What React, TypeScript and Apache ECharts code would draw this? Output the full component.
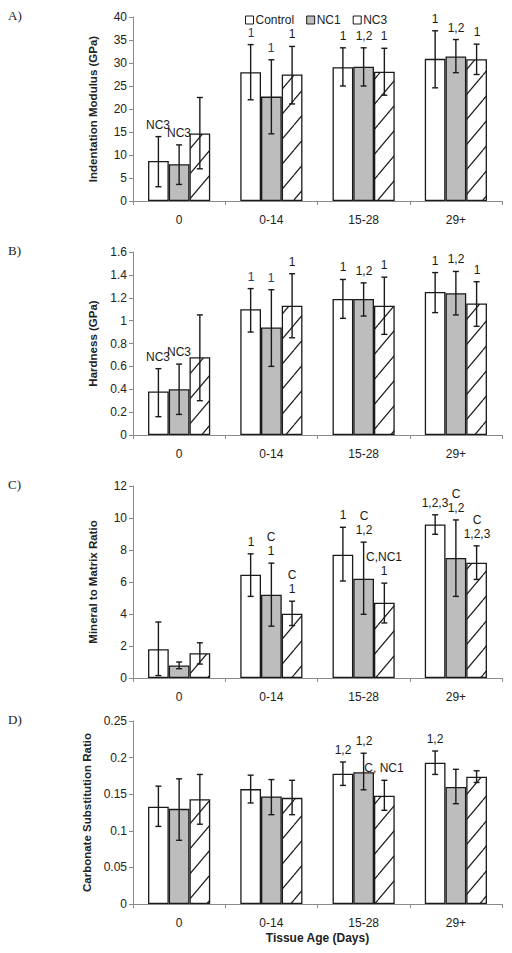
import React, { useEffect, useRef } from 'react';
import * as echarts from 'echarts';

const categories = ['0', '0-14', '15-28', '29+'];
const seriesNames = ['Control', 'NC1', 'NC3'];

// A) Indentation Modulus (GPa)
const modControl = [8.7, 28.0, 29.1, 30.9];
const modControlHi = [14.0, 34.0, 33.3, 37.0];
const modControlLo = [3.1, 22.0, 25.0, 24.6];
const modNC1 = [8.0, 22.7, 29.2, 31.4];
const modNC1Hi = [12.2, 30.7, 33.3, 35.1];
const modNC1Lo = [3.6, 14.6, 25.0, 27.9];
const modNC3 = [14.7, 27.5, 28.1, 30.8];
const modNC3Hi = [22.5, 33.6, 33.2, 34.1];
const modNC3Lo = [7.0, 21.1, 23.0, 27.5];
const modLabelsControl = ['NC3', '1', '1', '1'];
const modLabelsNC1 = ['NC3', '1', '1,2', '1,2'];
const modLabelsNC3 = ['', '1', '1', '1'];

// B) Hardness (GPa)
const hardControl = [0.38, 1.1, 1.19, 1.25];
const hardControlHi = [0.58, 1.28, 1.36, 1.42];
const hardControlLo = [0.16, 0.9, 1.02, 1.07];
const hardNC1 = [0.4, 0.94, 1.19, 1.24];
const hardNC1Hi = [0.62, 1.27, 1.33, 1.43];
const hardNC1Lo = [0.18, 0.6, 1.04, 1.05];
const hardNC3 = [0.68, 1.13, 1.13, 1.15];
const hardNC3Hi = [1.05, 1.41, 1.38, 1.34];
const hardNC3Lo = [0.3, 0.85, 0.88, 0.95];
const hardLabelsControl = ['NC3', '1', '1', '1'];
const hardLabelsNC1 = ['NC3', '1', '1,2', '1,2'];
const hardLabelsNC3 = ['', '1', '1', '1'];

// C) Mineral to Matrix Ratio
const mmControl = [1.8, 6.45, 7.7, 9.6];
const mmControlHi = [3.5, 7.76, 9.42, 10.2];
const mmControlLo = [0.15, 5.1, 6.06, 8.98];
const mmNC1 = [0.78, 5.2, 6.2, 7.5];
const mmNC1Hi = [1.0, 7.18, 8.49, 9.88];
const mmNC1Lo = [0.58, 3.24, 3.98, 5.1];
const mmNC3 = [1.55, 4.02, 4.7, 7.2];
const mmNC3Hi = [2.2, 4.8, 5.93, 8.26];
const mmNC3Lo = [0.87, 3.28, 3.44, 6.16];
const mmLabelsControl = ['', '1', '1', '1,2,3'];
const mmLabelsNC1 = ['', 'C\n1', 'C\n1,2', 'C\n1,2'];
const mmLabelsNC3 = ['', 'C\n1', 'C,NC1\n1', 'C\n1,2,3'];

// D) Carbonate Substitution Ratio
const csControl = [0.133, 0.157, 0.178, 0.193];
const csControlHi = [0.161, 0.176, 0.194, 0.209];
const csControlLo = [0.106, 0.138, 0.162, 0.177];
const csNC1 = [0.13, 0.147, 0.18, 0.16];
const csNC1Hi = [0.171, 0.17, 0.206, 0.184];
const csNC1Lo = [0.087, 0.122, 0.156, 0.137];
const csNC3 = [0.143, 0.145, 0.148, 0.174];
const csNC3Hi = [0.177, 0.169, 0.169, 0.182];
const csNC3Lo = [0.109, 0.122, 0.128, 0.166];
const csLabelsControl = ['', '', '1,2', '1,2'];
const csLabelsNC1 = ['', '', '1,2', ''];
const csLabelsNC3 = ['', '', 'C, NC1', ''];

const panelLetters = ['A)', 'B)', 'C)', 'D)'];
const yNames = [
  'Indentation Modulus (GPa)',
  'Hardness (GPa)',
  'Mineral to Matrix Ratio',
  'Carbonate Substitution Ratio',
];
const yMax = [40, 1.6, 12, 0.25];
const yInterval = [5, 0.2, 2, 0.05];
const xName = 'Tissue Age (Days)';

const panels = [
  {
    means: [modControl, modNC1, modNC3],
    hi: [modControlHi, modNC1Hi, modNC3Hi],
    lo: [modControlLo, modNC1Lo, modNC3Lo],
    labels: [modLabelsControl, modLabelsNC1, modLabelsNC3],
  },
  {
    means: [hardControl, hardNC1, hardNC3],
    hi: [hardControlHi, hardNC1Hi, hardNC3Hi],
    lo: [hardControlLo, hardNC1Lo, hardNC3Lo],
    labels: [hardLabelsControl, hardLabelsNC1, hardLabelsNC3],
  },
  {
    means: [mmControl, mmNC1, mmNC3],
    hi: [mmControlHi, mmNC1Hi, mmNC3Hi],
    lo: [mmControlLo, mmNC1Lo, mmNC3Lo],
    labels: [mmLabelsControl, mmLabelsNC1, mmLabelsNC3],
  },
  {
    means: [csControl, csNC1, csNC3],
    hi: [csControlHi, csNC1Hi, csNC3Hi],
    lo: [csControlLo, csNC1Lo, csNC3Lo],
    labels: [csLabelsControl, csLabelsNC1, csLabelsNC3],
  },
];

const FONT = '"Liberation Sans", Arial, sans-serif';
const SERIF = '"Liberation Serif", "Times New Roman", serif';
const gridTops = [17, 252, 486, 721];
const gridHeights = [184, 183, 192, 183];
const GRID_LEFT = 133;
const GRID_WIDTH = 369;
const CAT_GAP = 0.326;

function makeHatch() {
  const w = 21;
  const h = 25;
  const c = document.createElement('canvas');
  c.width = w;
  c.height = h;
  const ctx = c.getContext('2d')!;
  ctx.fillStyle = '#ffffff';
  ctx.fillRect(0, 0, w, h);
  ctx.strokeStyle = '#1a1a1a';
  ctx.lineWidth = 1.2;
  for (const dx of [-w, 0, w]) {
    ctx.beginPath();
    ctx.moveTo(dx, h);
    ctx.lineTo(dx + w, 0);
    ctx.stroke();
  }
  return { image: c.toDataURL(), repeat: 'repeat', imageWidth: w, imageHeight: h };
}

export default function App() {
  const ref = useRef<HTMLDivElement>(null);
  useEffect(() => {
    if (!ref.current) return;
    const chart = echarts.init(ref.current, undefined, { renderer: 'svg' });
    const hatch = makeHatch();
    const fills: any[] = ['#ffffff', '#bdbdbd', hatch];

    const grid: any[] = [];
    const xAxis: any[] = [];
    const yAxis: any[] = [];
    const series: any[] = [];
    const graphic: any[] = [];

    panels.forEach((panel, p) => {
      grid.push({ left: GRID_LEFT, top: gridTops[p], width: GRID_WIDTH, height: gridHeights[p] });
      xAxis.push({
        type: 'category',
        gridIndex: p,
        data: categories,
        axisLine: { lineStyle: { color: '#8a8a8a', width: 1 } },
        axisTick: { show: true, length: 4, lineStyle: { color: '#8a8a8a' } },
        axisLabel: { fontSize: 12, color: '#222', margin: 13, fontFamily: FONT },
        name: p === 3 ? xName : '',
        nameLocation: 'middle',
        nameGap: 28,
        nameTextStyle: { fontSize: 12, fontWeight: 'bold', color: '#222', fontFamily: FONT },
      });
      yAxis.push({
        type: 'value',
        gridIndex: p,
        min: 0,
        max: yMax[p],
        interval: yInterval[p],
        axisLine: { show: true, lineStyle: { color: '#8a8a8a', width: 1 } },
        axisTick: { show: true, length: 4, lineStyle: { color: '#8a8a8a' } },
        splitLine: { show: false },
        axisLabel: { fontSize: 12, color: '#222', margin: 6, fontFamily: FONT },
        name: yNames[p],
        nameLocation: 'middle',
        nameGap: 34,
        nameTextStyle: { fontSize: 11.5, fontWeight: 'bold', color: '#222', fontFamily: FONT },
      });
      graphic.push({
        type: 'text',
        left: 8,
        top: gridTops[p] - 8,
        style: { text: panelLetters[p], font: `13px ${SERIF}`, fill: '#222' },
      });

      seriesNames.forEach((name, s) => {
        series.push({
          type: 'bar',
          name,
          xAxisIndex: p,
          yAxisIndex: p,
          data: panel.means[s],
          barGap: '0%',
          barCategoryGap: `${CAT_GAP * 100}%`,
          itemStyle: { color: fills[s], borderColor: '#1a1a1a', borderWidth: 1.3 },
          emphasis: { disabled: true },
          z: 2,
        });
      });

      const errData: number[][] = [];
      for (let s = 0; s < 3; s++) {
        for (let c = 0; c < categories.length; c++) {
          errData.push([c, panel.lo[s][c], panel.hi[s][c], s]);
        }
      }
      series.push({
        type: 'custom',
        name: 'err' + p,
        xAxisIndex: p,
        yAxisIndex: p,
        data: errData,
        encode: { x: 0, y: [1, 2] },
        silent: true,
        z: 5,
        renderItem: (params: any, api: any) => {
          const c = api.value(0);
          const lo = api.value(1);
          const hi = api.value(2);
          const s = api.value(3);
          const top = api.coord([c, hi]);
          const bot = api.coord([c, lo]);
          const band = api.size([1, 0])[0];
          const bw = (band * (1 - CAT_GAP)) / 3;
          const x = top[0] + (s - 1) * bw;
          const cap = 3;
          const stroke = { stroke: '#1a1a1a', lineWidth: 1.4 };
          const label = panel.labels[s][c];
          const navy = p < 2 && c === 1 && s < 2;
          const col = navy ? '#22406e' : '#1a1a1a';
          const children: any[] = [
            { type: 'line', shape: { x1: x, y1: top[1], x2: x, y2: bot[1] }, style: stroke },
            { type: 'line', shape: { x1: x - cap, y1: top[1], x2: x + cap, y2: top[1] }, style: stroke },
            { type: 'line', shape: { x1: x - cap, y1: bot[1], x2: x + cap, y2: bot[1] }, style: stroke },
          ];
          if (label) {
            children.push({
              type: 'text',
              x: Math.round(x),
              y: Math.round(top[1] - 5),
              style: {
                legacy: false,
                text: label,
                align: 'center',
                verticalAlign: 'bottom',
                fontSize: 12,
                fontFamily: FONT,
                lineHeight: 14,
                fill: col,
                stroke: 'none',
                lineWidth: 0,
              },
            });
          }
          return { type: 'group', children };
        },
      });
    });

    chart.setOption({
      animation: false,
      backgroundColor: '#ffffff',
      grid,
      xAxis,
      yAxis,
      series,
      graphic,
      legend: {
        data: seriesNames,
        left: 240,
        top: 9,
        icon: 'rect',
        itemWidth: 8,
        itemHeight: 8,
        itemGap: 12,
        selectedMode: false,
        itemStyle: { borderColor: '#1a1a1a', borderWidth: 1 },
        textStyle: { fontSize: 12, color: '#222', fontFamily: FONT, padding: [0, 0, 0, -3] },
      },
    });
    return () => chart.dispose();
  }, []);

  return (
    <div
      ref={ref}
      style={{ position: 'absolute', left: 0, top: 0, width: 512, height: 953, background: '#fff' }}
    />
  );
}
